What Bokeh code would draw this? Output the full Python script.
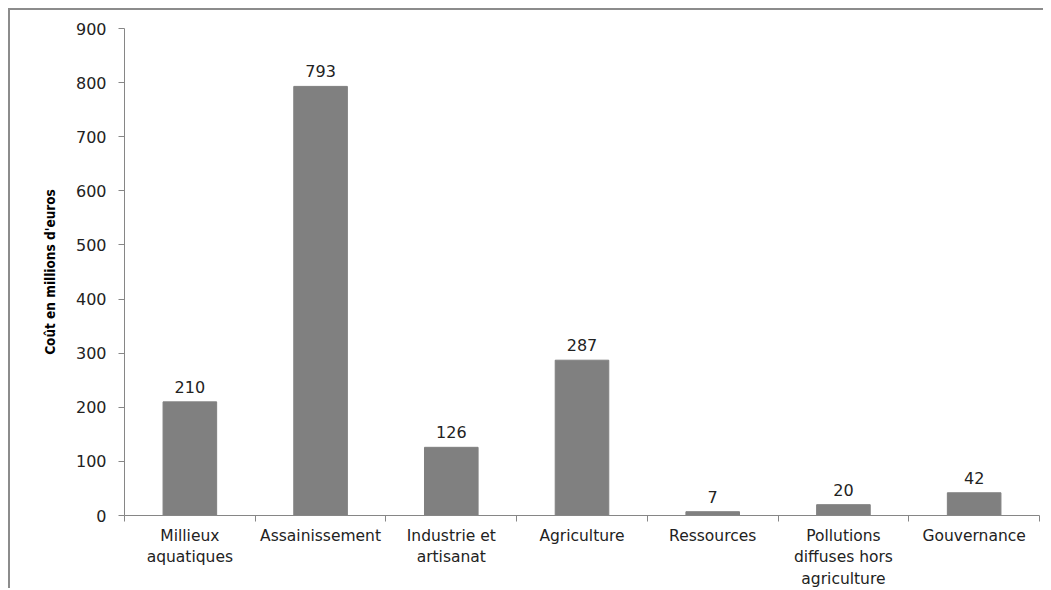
from bokeh.plotting import figure
from bokeh.models import ColumnDataSource, FixedTicker, Range1d
from bokeh.core.properties import value
from bokeh.embed import file_html
from bokeh.resources import INLINE

categories = ["Millieux\naquatiques", "Assainissement", "Industrie et\nartisanat",
              "Agriculture", "Ressources", "Pollutions\ndiffuses hors\nagriculture",
              "Gouvernance"]
values = [210, 793, 126, 287, 7, 20, 42]
y_ticks = [0, 100, 200, 300, 400, 500, 600, 700, 800, 900]
y_title = "Coût en millions d'euros"

xs = [i + 0.5 for i in range(len(categories))]
src = ColumnDataSource(dict(x=xs, top=values, lab=[str(v) for v in values]))

p = figure(width=1035, height=580, output_backend="svg", toolbar_location=None,
           x_range=Range1d(0, len(categories)), y_range=Range1d(0, 900),
           min_border_left=114, min_border_top=18, min_border_right=6,
           min_border_bottom=74)
p.styles = {"border-top": "2px solid #8c8c8c", "border-left": "2px solid #8c8c8c",
            "margin-left": "8px", "margin-top": "8px"}
p.outline_line_color = None
p.grid.visible = False
p.background_fill_color = "white"

p.vbar(x="x", top="top", width=0.41, bottom=0, source=src,
       fill_color="#808080", line_color="#808080")
p.text(x="x", y="top", text="lab", source=src, y_offset=-9,
       text_align="center", text_baseline="bottom",
       text_font=value("DejaVu Sans"), text_font_size="16px", text_color="#222222")

xa = p.xaxis[0]
xa.ticker = FixedTicker(ticks=xs, minor_ticks=list(range(len(categories) + 1)))
xa.major_label_overrides = {x: c for x, c in zip(xs, categories)}
xa.major_tick_line_color = None
xa.major_tick_out = 0
xa.major_tick_in = 0
xa.minor_tick_out = 6
xa.minor_tick_in = 0
xa.minor_tick_line_color = "#868686"
xa.axis_line_color = "#868686"
xa.major_label_standoff = 5
xa.major_label_text_font = "DejaVu Sans"
xa.major_label_text_font_size = "15.5px"
xa.major_label_text_color = "#222222"
xa.major_label_text_line_height = 1.2
xa.major_label_text_align = "center"

ya = p.yaxis[0]
ya.ticker = FixedTicker(ticks=y_ticks)
ya.major_tick_out = 6
ya.major_tick_in = 0
ya.minor_tick_line_color = None
ya.major_tick_line_color = "#868686"
ya.axis_line_color = "#868686"
ya.major_label_standoff = 12
ya.major_label_text_font = "DejaVu Sans"
ya.major_label_text_font_size = "16px"
ya.major_label_text_color = "#222222"
ya.axis_label = y_title
ya.axis_label_text_font = "Liberation Sans Narrow, DejaVu Sans Condensed, sans-serif"
ya.axis_label_text_font_style = "bold"
ya.axis_label_text_font_size = "13.5px"
ya.axis_label_text_color = "#000000"
ya.axis_label_standoff = 15

open("out.html", "w").write(file_html(p, INLINE))
